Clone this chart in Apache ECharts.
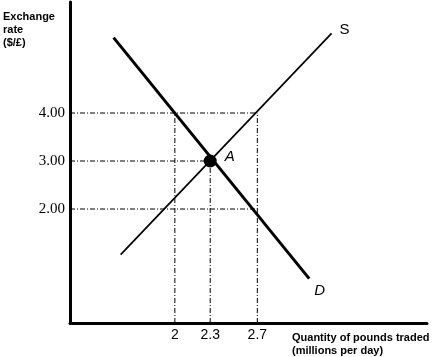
<!DOCTYPE html>
<html>
<head>
<meta charset="utf-8">
<script src="https://cdn.jsdelivr.net/npm/echarts@6/dist/echarts.min.js"></script>
<style>
html,body{margin:0;padding:0;background:#fff;}
#c{width:437px;height:357px;}
</style>
</head>
<body>
<div id="c"></div>
<script>
// ---- data ----
const priceTicks = [2, 3, 4];              // $/£
const qtyTicks = [2, 2.3, 2.7];            // millions of pounds per day
const supplyLine = [[1.54, 1.05], [3.33, 5.66]];
const demandLine = [[1.48, 5.57], [3.14, 0.55]];
const equilibrium = [2.3, 3.0];
// guide lines: [quantity, price] corner points
const hGuides = [[2.7, 4], [2.3, 3], [2.7, 2]];
const vGuides = [[2, 4], [2.3, 3], [2.7, 4]];
const yTitle = 'Exchange\nrate\n($/£)';
const xTitle = 'Quantity of pounds traded\n(millions per day)';

const X_MIN = 1.11, X_MAX = 4.14, Y_MIN = -0.375, Y_MAX = 6.3125;

const dash = [5, 2, 1, 2];
const guideSeries = [];
hGuides.forEach(function (c) {
  guideSeries.push({
    type: 'line', data: [[X_MIN, c[1]], [c[0], c[1]]], symbol: 'none', silent: true,
    lineStyle: { color: '#000', width: 1, type: dash }, z: 1
  });
});
vGuides.forEach(function (c) {
  guideSeries.push({
    type: 'line', data: [[c[0], Y_MIN], [c[0], c[1]]], symbol: 'none', silent: true,
    lineStyle: { color: '#000', width: 1, type: dash }, z: 1
  });
});

const chart = echarts.init(document.getElementById('c'), null, { renderer: 'canvas' });
chart.setOption({
  animation: false,
  backgroundColor: '#fff',
  grid: { left: 70, right: 10, top: 2, bottom: 34, containLabel: false },
  xAxis: {
    type: 'value', min: X_MIN, max: X_MAX,
    splitLine: { show: false },
    axisLine: { show: true, onZero: false, lineStyle: { color: '#000', width: 3 } },
    axisTick: { show: false },
    axisLabel: {
      customValues: qtyTicks,
      formatter: function (v) { return String(v); },
      color: '#000', fontFamily: 'Liberation Sans, Arial, sans-serif', fontSize: 14, margin: 5
    }
  },
  yAxis: {
    type: 'value', min: Y_MIN, max: Y_MAX,
    splitLine: { show: false },
    axisLine: { show: true, onZero: false, lineStyle: { color: '#000', width: 3 } },
    axisTick: { show: false },
    axisLabel: {
      customValues: priceTicks,
      formatter: function (v) { return v.toFixed(2); },
      color: '#000', fontFamily: 'Liberation Serif, Times New Roman, serif', fontSize: 15, margin: 5
    }
  },
  graphic: [
    { type: 'text', left: 3, top: 10, style: { text: yTitle, fill: '#000',
      font: 'bold 11px "Liberation Sans", Arial, sans-serif', lineHeight: 13 } },
    { type: 'text', left: 292, top: 331, style: { text: xTitle, fill: '#000',
      font: 'bold 11px "Liberation Sans", Arial, sans-serif', lineHeight: 13 } }
  ],
  series: guideSeries.concat([
    {
      type: 'line', data: supplyLine, symbol: 'none', silent: true, z: 3,
      lineStyle: { color: '#000', width: 1.7 },
      endLabel: { show: true, formatter: 'S', color: '#000', fontSize: 15,
        fontFamily: 'Liberation Sans, Arial, sans-serif', offset: [0, -3] }
    },
    {
      type: 'line', data: demandLine, symbol: 'none', silent: true, z: 3,
      lineStyle: { color: '#000', width: 3 },
      endLabel: { show: true, formatter: 'D', color: '#000', fontSize: 15, fontStyle: 'italic',
        fontFamily: 'Liberation Sans, Arial, sans-serif', offset: [-3, 12] }
    },
    {
      type: 'scatter', data: [equilibrium], symbol: 'circle', symbolSize: 13, z: 5,
      itemStyle: { color: '#000', opacity: 1 },
      label: { show: true, formatter: 'A', position: 'right', distance: 4, offset: [4, -4],
        color: '#000', fontSize: 15, fontStyle: 'italic',
        fontFamily: 'Liberation Sans, Arial, sans-serif' }
    }
  ])
});
</script>
</body>
</html>
